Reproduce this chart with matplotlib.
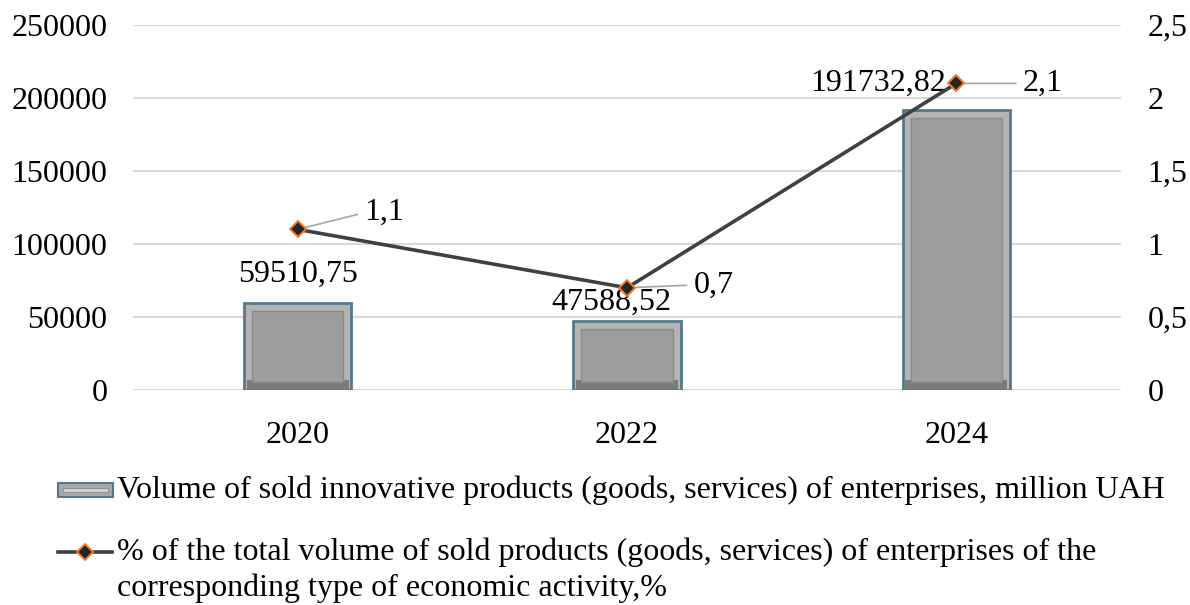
"""
Innovative products sold by enterprises: volume (bars) and share of total (line)
"""

import matplotlib.pyplot as plt
from matplotlib.patches import Rectangle
from matplotlib.lines import Line2D

years = ["2020", "2022", "2024"]
volume = [59510.75, 47588.52, 191732.82]
share = [1.1, 0.7, 2.1]

volume_labels = ["59510,75", "47588,52", "191732,82"]
share_labels = ["1,1", "0,7", "2,1"]
left_ticks = [0, 50000, 100000, 150000, 200000, 250000]
right_ticks = [0, 0.5, 1, 1.5, 2, 2.5]
right_tick_labels = ["0", "0,5", "1", "1,5", "2", "2,5"]

bar_label = "Volume of sold innovative products (goods, services) of enterprises, million UAH"
line_label = ["% of the total volume of sold products (goods, services) of enterprises of the",
              "corresponding type of economic activity,%"]

plt.rcParams["font.family"] = ["Liberation Serif", "DejaVu Serif"]
FS = 23

fig = plt.figure(figsize=(11.9, 6.05), dpi=100)
ax = fig.add_axes([0.1118, 0.3554, 0.8302, 0.6033])
ax2 = ax.twinx()

x = list(range(len(years)))
ax.set_xlim(-0.5, len(years) - 0.5)
ax.set_ylim(0, 250000)
ax2.set_ylim(0, 2.5)

# grid
ax.set_yticks(left_ticks)
ax.set_yticklabels([str(t) for t in left_ticks])
ax.grid(axis="y", color="#d9d9d9", linewidth=1.5)
ax.set_axisbelow(True)
ax.set_xticks(x)
ax.set_xticklabels(years)
ax2.set_yticks(right_ticks)
ax2.set_yticklabels(right_tick_labels)
for a in (ax, ax2):
    for s in a.spines.values():
        s.set_visible(False)
ax.tick_params(axis="y", length=0, pad=18.5, labelsize=FS)
ax.tick_params(axis="x", length=0, pad=22, labelsize=FS)
ax2.tick_params(axis="y", length=0, pad=19, labelsize=FS)

# bevelled bars
width = 0.325
ax.bar(x, volume, width, color="#b4b4b4", edgecolor="#55788a", linewidth=2, zorder=2)
fig.canvas.draw()
inv = ax.transData.inverted()
p0 = inv.transform((0, 0))
p1 = inv.transform((8, 8))
dx, dy = p1[0] - p0[0], p1[1] - p0[1]
ax.bar(x, [v - 2 * dy for v in volume], width - 2 * dx, bottom=dy,
       color="#9d9d9d", edgecolor="#8a8a8a", linewidth=1, zorder=3)
ax.bar(x, [1.2 * dy] * len(x), width - 0.6 * dx, bottom=0.1 * dy,
       color="#7a7a7a", linewidth=0, zorder=2.5)

for xi, v, lab, off in zip(x, volume, volume_labels, [(0, 10), (-11, 3), (-56, 9)]):
    ax.annotate(lab, (xi, v), textcoords="offset points", xytext=off,
                ha="center", va="bottom", fontsize=FS, zorder=6)

# share line
ax2.plot(x, share, color="#404040", linewidth=2.6, marker="D", markersize=8.5,
         markerfacecolor="#262626", markeredgecolor="#f07b28", markeredgewidth=1.4, zorder=5)
ax2.set_zorder(ax.get_zorder() + 1)
ax2.patch.set_visible(False)

for xi, s, lab, off in zip(x, share, share_labels, [(48, 12), (48, 2), (48, 0)]):
    ax2.annotate(lab, (xi, s), textcoords="offset points", xytext=off,
                 ha="left", va="center", fontsize=FS,
                 arrowprops=dict(arrowstyle="-", color="#a6a6a6", lw=1.2,
                                 shrinkA=3, shrinkB=2, relpos=(0, 0.5)))

# legend
bx, by = 58 / 1190, 1 - 497 / 605
fig.patches.append(Rectangle((bx, by), 55 / 1190, 14 / 605, transform=fig.transFigure,
                             facecolor="#a8a8a8", edgecolor="#55788a", linewidth=1.5))
fig.patches.append(Rectangle((bx + 5 / 1190, by + 5 / 605), 45 / 1190, 4 / 605,
                             transform=fig.transFigure, facecolor="#cfcfcf",
                             edgecolor="#8a8a8a", linewidth=0.6))
fig.text(117 / 1190, 1 - 490 / 605, bar_label, fontsize=FS, va="center", ha="left")

ly = 1 - 552 / 605
fig.add_artist(Line2D([58 / 1190, 112 / 1190], [ly, ly], transform=fig.transFigure,
                      color="#404040", linewidth=2.6))
fig.add_artist(Line2D([85 / 1190], [ly], transform=fig.transFigure, marker="D",
                      markersize=8.5, markerfacecolor="#262626",
                      markeredgecolor="#f07b28", markeredgewidth=1.4, linestyle="none"))
fig.text(117 / 1190, 1 - 552 / 605, line_label[0], fontsize=FS, va="center", ha="left")
fig.text(117 / 1190, 1 - 588 / 605, line_label[1], fontsize=FS, va="center", ha="left")

fig.savefig("out.png", dpi=100)
